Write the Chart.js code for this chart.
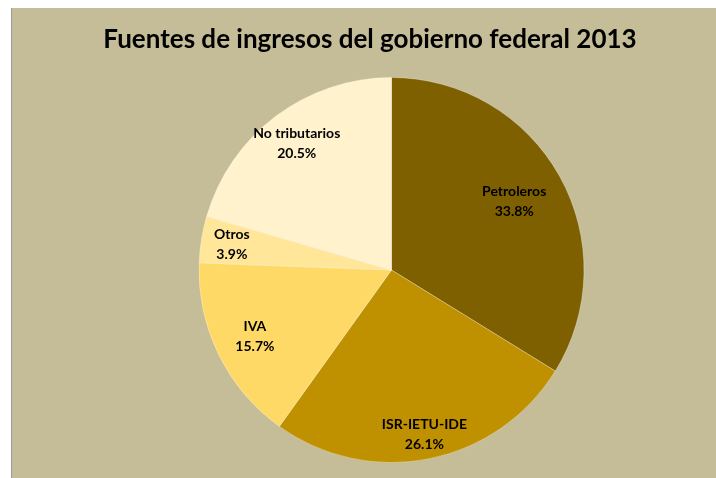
<!DOCTYPE html>
<html>
<head>
<meta charset="utf-8">
<script src="https://cdn.jsdelivr.net/npm/chart.js@4.4.1/dist/chart.umd.min.js"></script>
<style>
  html, body { margin: 0; padding: 0; background: #fff; }
  #frame {
    position: absolute; left: 11px; top: 8px; width: 705px; height: 470px;
    background: #C4BD97; border-left: 1px solid #9a9a9a; box-sizing: border-box;
  }
  #frame canvas { display: block; }
</style>
</head>
<body>
<div id="frame"><canvas id="pieChart" width="704" height="470"></canvas></div>
<script>
const chartTitle = 'Fuentes de ingresos del gobierno federal 2013';
const categories = ['Petroleros', 'ISR-IETU-IDE', 'IVA', 'Otros', 'No tributarios'];
const shares = [33.8, 26.1, 15.7, 3.9, 20.5];
const sliceColors = ['#7F6000', '#BF9000', '#FFD966', '#FFE699', '#FFF2CC'];

// where each label sits, as a fraction of the radius (Excel "best fit" look)
const labelRadius = [0.73, 0.87, 0.79, 0.84, 0.82];

const pieLabels = {
  id: 'pieLabels',
  afterDraw(chart) {
    const { ctx } = chart;
    ctx.save();
    ctx.fillStyle = '#000';
    ctx.textAlign = 'center';
    ctx.textBaseline = 'middle';

    ctx.font = 'bold 26px Lato';
    ctx.fillText(chartTitle, chart.width / 2 + 6, 32);

    ctx.font = 'bold 14px Lato';
    chart.getDatasetMeta(0).data.forEach((arc, i) => {
      const mid = (arc.startAngle + arc.endAngle) / 2;
      const r = arc.outerRadius * labelRadius[i];
      const x = arc.x + Math.cos(mid) * r;
      const y = arc.y + Math.sin(mid) * r;
      ctx.fillText(categories[i], x, y - 10);
      ctx.fillText(shares[i].toFixed(1) + '%', x, y + 10);
    });
    ctx.restore();
  },
};

new Chart(document.getElementById('pieChart'), {
  type: 'pie',
  data: {
    labels: categories,
    datasets: [{
      data: shares,
      backgroundColor: sliceColors,
      borderColor: 'rgba(255,255,255,0.3)',
      borderWidth: 1,
    }],
  },
  options: {
    responsive: false,
    animation: false,
    layout: { padding: { top: 69, bottom: 15, left: 55, right: 0 } },
    plugins: {
      legend: { display: false },
      tooltip: { enabled: false },
      title: { display: false },
    },
  },
  plugins: [pieLabels],
});
</script>
</body>
</html>
